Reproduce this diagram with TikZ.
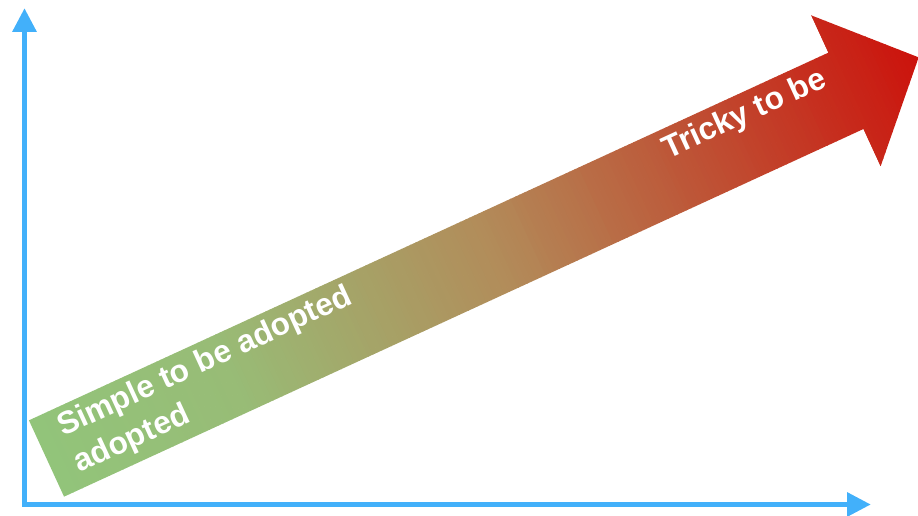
\documentclass[tikz,border=0pt]{standalone}
\usepackage{fontspec}
\setmainfont{Liberation Sans}
\usetikzlibrary{arrows.meta}
\definecolor{axisblue}{RGB}{66,176,250}
\definecolor{easygreen}{RGB}{146,196,122}
\definecolor{olivegreen}{RGB}{152,188,118}
\definecolor{midtan}{RGB}{178,140,90}
\definecolor{hardred}{RGB}{204,18,12}
\begin{document}
\begin{tikzpicture}[x=0.02cm, y=0.02cm,
    axis/.style={axisblue, line width=3.4pt,
      {Triangle[length=0.48cm, width=0.46cm]}-{Triangle[length=0.48cm, width=0.46cm]}},
    label/.style={white, font=\bfseries\fontsize{18}{22.7}\selectfont,
      align=left, anchor=base west, inner sep=0pt}]
  \useasboundingbox (0,0) rectangle (918,516);
  % axes
  \coordinate (o) at (24.5,11.5);
  \coordinate (ytip) at (24.5,508);
  \coordinate (xtip) at (871,11.5);
  \draw [axis] (ytip) -- (o) -- (xtip);
  % big arrow, shaded slice by slice along its length
  \begin{scope}[shift={(46.5,57.5)}, rotate=24.7, transform shape]
    \begin{scope}
      \clip (0,-42) -- (880,-42) -- (880,-83) -- (960,0) -- (880,83) -- (880,42) -- (0,42) -- cycle;
      \foreach \s in {0,5,...,195} {
        \pgfmathtruncatemacro\p{(\s+2.5)/2}
        \fill [olivegreen!\p!easygreen] (\s,-90) rectangle (\s+5.6,90);
      }
      \foreach \s in {200,205,...,485} {
        \pgfmathtruncatemacro\p{(\s+2.5-200)/2.9}
        \fill [midtan!\p!olivegreen] (\s,-90) rectangle (\s+5.6,90);
      }
      \foreach \s in {490,495,...,955} {
        \pgfmathtruncatemacro\p{(\s+2.5-490)/4.7}
        \fill [hardred!\p!midtan] (\s,-90) rectangle (\s+5.6,90);
      }
    \end{scope}
    \node [label] (simple) at (24,-27) {Simple to be adopted\\adopted};
    \node [label] (tricky) at (690,12) {Tricky to be};
  \end{scope}
\end{tikzpicture}
\end{document}
